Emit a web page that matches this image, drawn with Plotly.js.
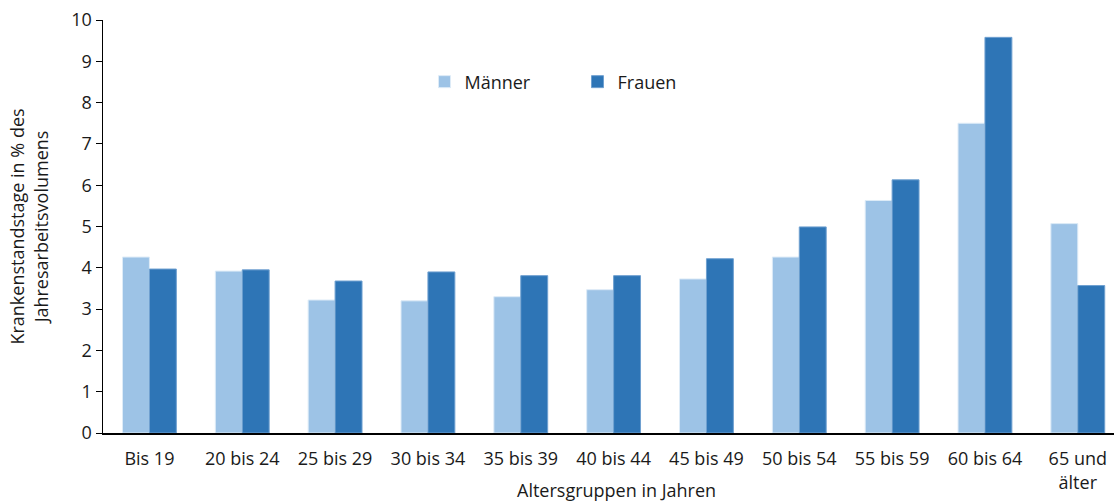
<!DOCTYPE html>
<html><head><meta charset="utf-8">
<script src="https://cdn.plot.ly/plotly-3.0.1.min.js"></script>
<style>html,body{margin:0;padding:0;background:#fff}</style>
</head><body><div id="chart" style="width:1114px;height:501px"></div>
<script>
const categories = ["Bis 19","20 bis 24","25 bis 29","30 bis 34","35 bis 39","40 bis 44","45 bis 49","50 bis 54","55 bis 59","60 bis 64","65 und<br>älter"];
const maenner = [4.26,3.92,3.22,3.20,3.30,3.47,3.73,4.26,5.63,7.50,5.07];
const frauen  = [3.97,3.95,3.68,3.90,3.81,3.81,4.22,4.99,6.13,9.58,3.57];
const yTicks = [0,1,2,3,4,5,6,7,8,9,10];

const font = "'Open Sans', Lato, sans-serif";
const data = [
  {type:"bar", name:"Männer", x:categories, y:maenner,
   marker:{color:"#9DC3E6", line:{color:"#DDEBF7", width:1}}},
  {type:"bar", name:"Frauen", x:categories, y:frauen,
   marker:{color:"#2E75B6", line:{color:"#6FA0D0", width:1}}}
];
const layout = {
  width:1114, height:501,
  margin:{l:103, r:0, t:20, b:68},
  paper_bgcolor:"#fff", plot_bgcolor:"#fff",
  font:{family:font, size:18, color:"#1a1a1a"},
  barmode:"group", bargap:0.42, bargroupgap:0,
  showlegend:true,
  legend:{orientation:"h", x:0.318, y:0.85, xanchor:"left", yanchor:"middle",
          font:{size:18}, entrywidth:108, entrywidthmode:"pixels",
          itemwidth:30, traceorder:"normal", bgcolor:"rgba(0,0,0,0)"},
  xaxis:{type:"category", range:[-0.5,10.39], showline:true, linecolor:"#000", linewidth:1.5,
         ticks:"", showgrid:false, tickfont:{size:18}, ticklabelstandoff:9},
  yaxis:{range:[0,10], tickvals:yTicks, showline:true, linecolor:"#000", linewidth:1.5,
         ticks:"outside", ticklen:6, tickcolor:"#000", showgrid:false, zeroline:false,
         tickfont:{size:18},
         title:{text:"Krankenstandstage in % des<br>Jahresarbeitsvolumens", font:{size:18}, standoff:18}},
  annotations:[{text:"Altersgruppen in Jahren", xref:"paper", yref:"paper", x:0.508, y:-0.137,
                xanchor:"center", yanchor:"middle", showarrow:false, font:{size:18}}]
};
Plotly.newPlot("chart", data, layout, {displayModeBar:false, staticPlot:true});
</script>
</body></html>
